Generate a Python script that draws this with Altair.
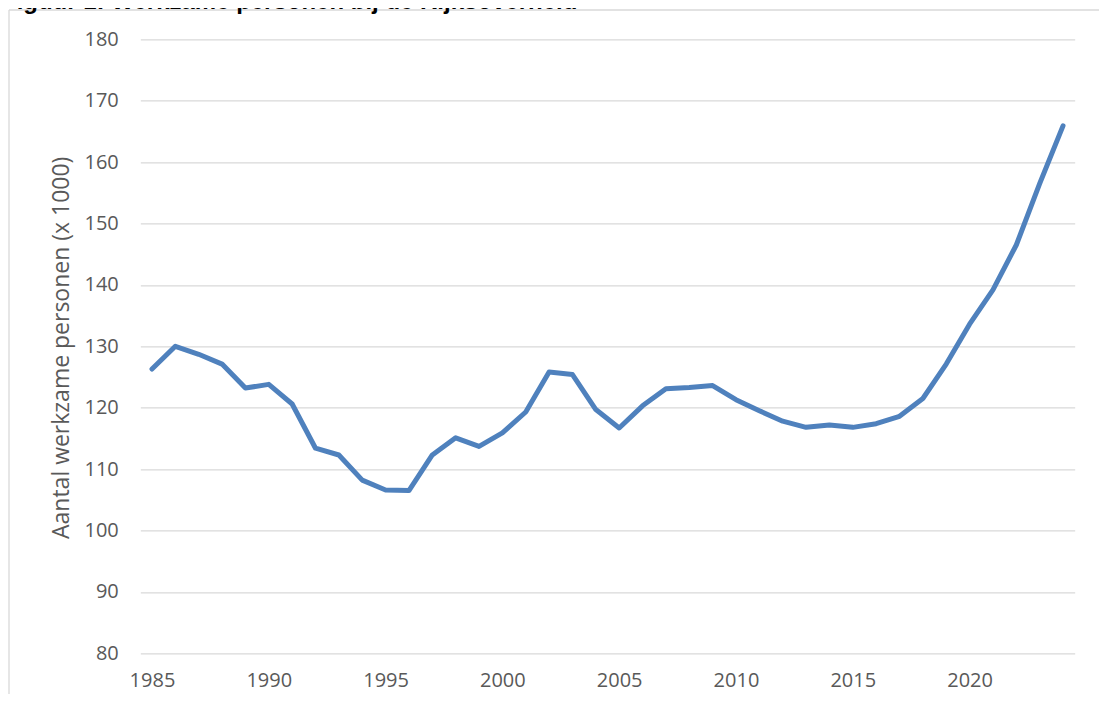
import altair as alt
import pandas as pd

# ---- data ----
years = list(range(1985, 2025))
employees = [126.3, 130.0, 128.7, 127.1, 123.2, 123.8, 120.6, 113.4, 112.3, 108.2,
             106.6, 106.5, 112.3, 115.1, 113.7, 115.9, 119.3, 125.8, 125.4, 119.7,
             116.7, 120.3, 123.1, 123.3, 123.6, 121.3, 119.5, 117.8, 116.8, 117.2,
             116.8, 117.4, 118.6, 121.5, 127.1, 133.6, 139.2, 146.5, 156.5, 165.9]
x_ticks = [1985, 1990, 1995, 2000, 2005, 2010, 2015, 2020]
y_ticks = [80, 90, 100, 110, 120, 130, 140, 150, 160, 170, 180]
y_title = "Aantal werkzame personen (x 1000)"
chart_title = "Figuur 1: Werkzame personen bij de Rijksoverheid"

W, H = 934.4, 614
PAD = {"left": 132.3, "top": 31.3, "right": 24.3, "bottom": 40.5}
GREY = "#595959"
GRID = "#D9D9D9"

df = pd.DataFrame({"jaar": years, "personen": employees})

line = alt.Chart(df).mark_line(
    color="#4F81BD", strokeWidth=5, strokeCap="round", strokeJoin="round"
).encode(
    x=alt.X("jaar:Q",
            scale=alt.Scale(domain=[1984.5, 2024.5], nice=False, zero=False),
            axis=alt.Axis(values=x_ticks, format="d", title=None, grid=False,
                          domain=False, ticks=False, labelFlush=False,
                          labelFont="Open Sans", labelFontSize=20, labelColor=GREY,
                          labelBaseline="middle", labelPadding=27.5)),
    y=alt.Y("personen:Q",
            scale=alt.Scale(domain=[80, 180], nice=False, zero=False),
            axis=alt.Axis(values=y_ticks, title=y_title, grid=True,
                          gridColor=GRID, gridWidth=1.3, domain=False, ticks=False,
                          labelFont="Open Sans", labelFontSize=20, labelColor=GREY,
                          labelAlign="right", labelBaseline="middle", labelPadding=22,
                          titleFont="Open Sans", titleFontSize=23, titleColor=GREY,
                          titleFontWeight="normal", titleAngle=270,
                          titleBaseline="middle", titleAlign="center",
                          titleX=-79.3, titleY=H / 2 + 1)),
)

frame_v = alt.Chart(alt.Data(values=[{}])).mark_rule(
    color=GRID, strokeWidth=1.3
).encode(x=alt.value(-131.3), y=alt.value(-29.3), y2=alt.value(H + 45))

frame_h = alt.Chart(alt.Data(values=[{}])).mark_rule(
    color=GRID, strokeWidth=1.3
).encode(x=alt.value(-131.3), x2=alt.value(W + 30), y=alt.value(-29.3))

title = alt.Chart(alt.Data(values=[{"t": chart_title}])).mark_text(
    font="Liberation Sans", fontSize=24, fontWeight="bold",
    align="left", baseline="alphabetic", color="#000000"
).encode(x=alt.value(-138.3), y=alt.value(-29.8), text="t:N")

chart = alt.layer(frame_v, frame_h, line, title).properties(
    width=W, height=H,
    autosize=alt.AutoSizeParams(type="none"),
    padding=PAD,
    background="white",
).configure_view(stroke=None)

chart.save("out.html", embed_options={"renderer": "svg", "actions": False})
